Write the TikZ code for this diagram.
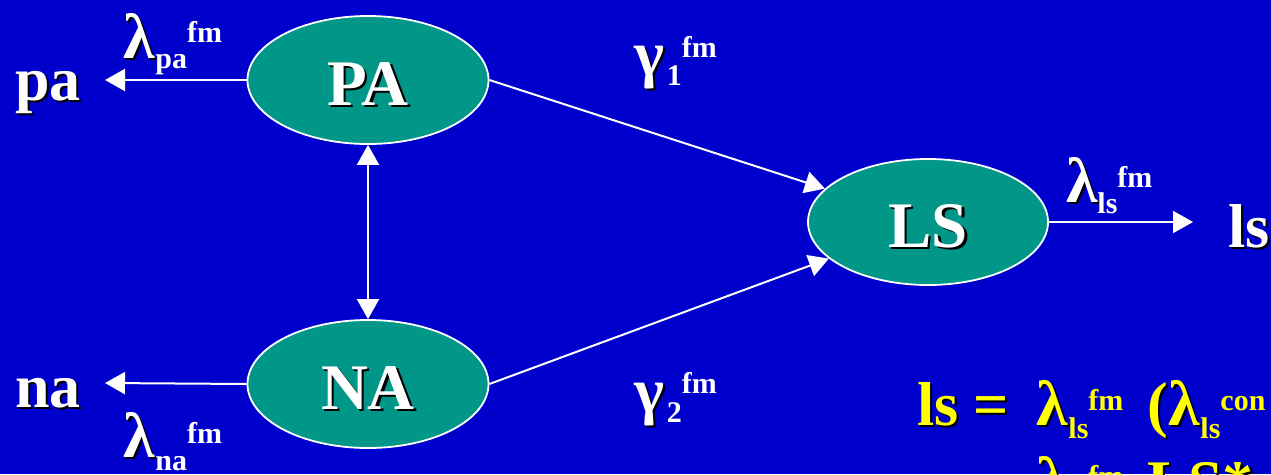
\documentclass[tikz,border=0pt]{standalone}
\usepackage{fontspec}
\setmainfont{Liberation Serif}
\usetikzlibrary{shapes.geometric,arrows.meta}
\definecolor{bgblue}{RGB}{0,0,204}
\definecolor{ellfill}{RGB}{0,150,136}
\definecolor{txtyel}{RGB}{255,255,0}
\newcommand\shd[2]{\leavevmode\rlap{\kern2.5pt\raisebox{-2.5pt}{\color{black}#2}}{\color{#1}#2}}
% #1 colour, #2 greek, #3 sub, #4 sup, #5 kern before sub, #6 sub drop, #7 sup raise
\newcommand\glbl[7]{\bfseries\shd{#1}{\fontsize{64}{64}\selectfont #2}\kern#5\raisebox{-#6}{\color{#1}\fontsize{30}{30}\selectfont #3}\raisebox{#7}{\color{#1}\fontsize{30}{30}\selectfont #4}}
\tikzset{
  ell/.style={ellipse, draw=white, line width=1.8pt, fill=ellfill, minimum width=241pt, minimum height=128pt, inner sep=0pt, text height=50pt, text depth=0pt, font=\bfseries\fontsize{65}{65}\selectfont},
  arr/.style={white, line width=2pt, -{Triangle[length=20pt,width=22pt]}},
  dbl/.style={white, line width=2pt, {Triangle[length=20pt,width=22pt]}-{Triangle[length=20pt,width=22pt]}},
  lbl/.style={anchor=base west, inner sep=0pt, outer sep=0pt},
  big/.style={lbl, font=\bfseries\fontsize{62}{62}\selectfont}
}
\begin{document}
\begin{tikzpicture}[x=1pt,y=-1pt]
\useasboundingbox (0,0) rectangle (1271,474);
\clip (0,0) rectangle (1271,474);
\fill[bgblue] (0,0) rectangle (1271,474);
% ellipses
\node[ell] (PA) at (368,80) {\shd{white}{PA}};
\node[ell] (NA) at (368,384) {\shd{white}{NA}};
\node[ell, minimum width=240pt, minimum height=126pt] (LS) at (928,222) {\shd{white}{LS}};
% outer texts
\node[big] (pa) at (15,100) {\shd{white}{pa}};
\node[big] (na) at (15,407) {\shd{white}{na}};
\node[big] (ls) at (1228,247) {\shd{white}{ls}};
\coordinate (paend) at (105,80);
\coordinate (naend) at (105,383);
\coordinate (lsend) at (1193,222);
% connectors
\draw[arr] (PA.west) -- (paend);
\draw[arr] (NA.west) -- (naend);
\draw[dbl] (PA) -- (NA);
\draw[arr] (PA.east) -- (LS);
\draw[arr] (NA.east) -- (LS);
\draw[arr] (LS.east) -- (lsend);
% labels
\node[lbl] (lpa) at (123,58) {\glbl{white}{λ}{pa}{fm}{1pt}{10pt}{16pt}};
\node[lbl] (lna) at (123,457) {\glbl{white}{λ}{na}{fm}{1pt}{13pt}{14pt}};
\node[lbl] (lls) at (1066,202) {\glbl{white}{λ}{ls}{fm}{0pt}{11pt}{15pt}};
\node[lbl] (g1) at (634,75) {\glbl{white}{γ}{1}{fm}{3pt}{10pt}{18pt}};
\node[lbl] (g2) at (634,412) {\glbl{white}{γ}{2}{fm}{3pt}{10pt}{19pt}};
% yellow equation
\node[big] (yls) at (917,425) {\shd{txtyel}{ls}};
\node[big] (yeq) at (973,425) {\shd{txtyel}{=}};
\node[lbl] (yl1) at (1036,425) {\glbl{txtyel}{λ}{ls}{fm}{1pt}{13pt}{15pt}};
\node[big] (ypar) at (1147,425) {\shd{txtyel}{(}};
\node[lbl] (yl2) at (1168,425) {\glbl{txtyel}{λ}{ls}{con}{1pt}{13pt}{15pt}};
\node[lbl] (yl3) at (1036,501) {\glbl{txtyel}{λ}{ls}{fm}{1pt}{13pt}{15pt}};
\node[big] (yLS) at (1147,503) {\shd{txtyel}{LS*}};
\end{tikzpicture}
\end{document}
